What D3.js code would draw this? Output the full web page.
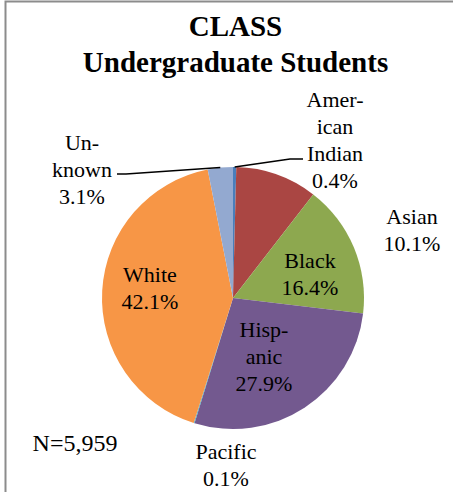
<!DOCTYPE html>
<html>
<head>
<meta charset="utf-8">
<script src="https://cdn.jsdelivr.net/npm/d3@7"></script>
</head>
<body style="margin:0">
<svg id="chart" width="453" height="492"></svg>
<script>
// Undergraduate enrollment by race/ethnicity
const categories = ["American Indian", "Asian", "Black", "Hispanic", "Pacific", "White", "Unknown"];
const percents   = [0.4, 10.1, 16.4, 27.9, 0.1, 42.1, 3.1];
const labelLines = [
  ["Amer-", "ican", "Indian", "0.4%"],
  ["Asian", "10.1%"],
  ["Black", "16.4%"],
  ["Hisp-", "anic", "27.9%"],
  ["Pacific", "0.1%"],
  ["White", "42.1%"],
  ["Un-", "known", "3.1%"]
];
const colors = ["#4A7EBB", "#AA4643", "#8DA84F", "#73598F", "#4BACC6", "#F79646", "#93A9D0"];
const titleLines = ["CLASS", "Undergraduate Students"];
const totalLabel = "N=5,959";

const FONT = "'Liberation Serif', 'Times New Roman', serif";

const svg = d3.select("#chart");
const cx = 233, cy = 298, R = 131;

// chart area frame
svg.append("rect")
  .attr("x", 5.5).attr("y", 1.5)
  .attr("width", 520).attr("height", 520)
  .attr("fill", "none").attr("stroke", "#8c8c8c").attr("stroke-width", 2);

// title
titleLines.forEach((t, i) => {
  svg.append("text")
    .attr("x", 235.5).attr("y", 36 + i * 36)
    .attr("text-anchor", "middle")
    .attr("font-family", FONT)
    .attr("font-weight", "bold")
    .attr("font-size", 29)
    .text(t);
});

const color = d3.scaleOrdinal().domain(categories).range(colors);
const pie = d3.pie().sort(null).value(d => d.v);
const data = categories.map((c, i) => ({ c, v: percents[i], lines: labelLines[i] }));
const arcs = pie(data);
const arc = d3.arc().innerRadius(0).outerRadius(R);

const g = svg.append("g").attr("transform", `translate(${cx},${cy})`);
g.selectAll("path.slice")
  .data(arcs)
  .join("path")
  .attr("class", "slice")
  .attr("d", arc)
  .attr("fill", d => color(d.data.c));

// label anchor positions (centre of text block, relative to pie centre)
const labelPos = {
  "American Indian": [102, -158],
  "Asian": [179, -68],
  "Black": [77, -24],
  "Hispanic": [31, 59],
  "Pacific": [-7, 167],
  "White": [-83, -10],
  "Unknown": [-151, -128]
};
const fs = 22, lh = 27;

arcs.forEach(a => {
  const [lx, ly] = labelPos[a.data.c];
  const n = a.data.lines.length;
  a.data.lines.forEach((s, i) => {
    svg.append("text")
      .attr("x", cx + lx)
      .attr("y", cy + ly + (i - (n - 1) / 2) * lh + fs * 0.33)
      .attr("font-family", FONT)
      .attr("font-size", fs)
      .attr("text-anchor", "middle")
      .text(s);
  });
});

// leader lines for the thin slices at the top
const outerPt = a => {
  const m = (a.startAngle + a.endAngle) / 2;
  return [cx + R * Math.sin(m), cy - R * Math.cos(m)];
};
const leader = d3.line();
const p1 = outerPt(arcs[0]);
svg.append("path")
  .attr("d", leader([p1, [290, 159], [303, 159]]))
  .attr("fill", "none").attr("stroke", "#000").attr("stroke-width", 1.5);
const p2 = outerPt(arcs[6]);
svg.append("path")
  .attr("d", leader([p2, [126, 174], [117, 174]]))
  .attr("fill", "none").attr("stroke", "#000").attr("stroke-width", 1.5);

// sample size
svg.append("text")
  .attr("x", 75).attr("y", 443 + 24 * 0.33)
  .attr("text-anchor", "middle")
  .attr("font-family", FONT)
  .attr("font-size", 24)
  .text(totalLabel);
</script>
</body>
</html>
